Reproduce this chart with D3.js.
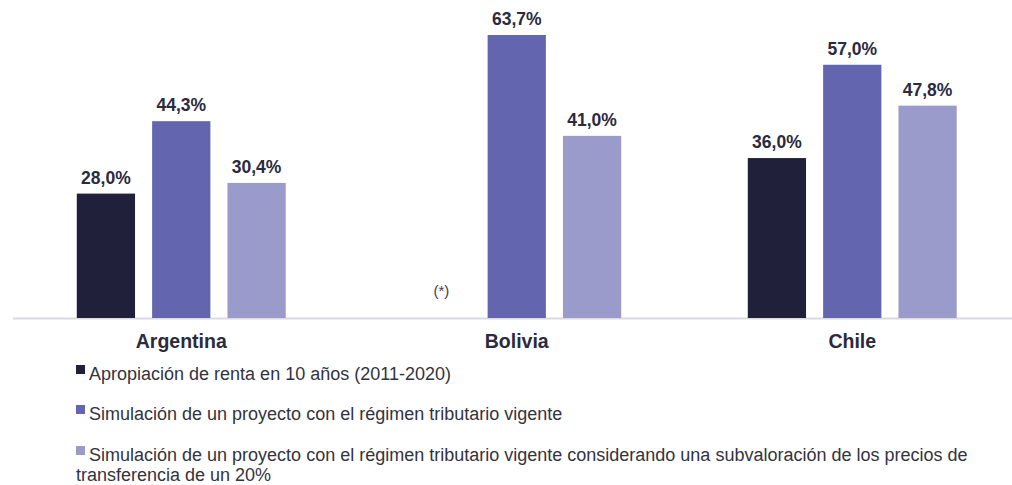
<!DOCTYPE html>
<html>
<head>
<meta charset="utf-8">
<script src="https://cdn.jsdelivr.net/npm/d3@7"></script>
<style>
  html, body { margin: 0; padding: 0; background: #ffffff; }
  svg { display: block; font-family: Arial, "Liberation Sans", sans-serif; }
</style>
</head>
<body>
<svg id="chart" width="1012" height="485"></svg>
<script>
// Countries on the x axis
const categories = ["Argentina", "Bolivia", "Chile"];

// Series names (legend)
const seriesNames = [
  "Apropiación de renta en 10 años (2011-2020)",
  "Simulación de un proyecto con el régimen tributario vigente",
  "Simulación de un proyecto con el régimen tributario vigente considerando una subvaloración de los precios de transferencia de un 20%"
];

// Values in percent; null = no data for that country
const rentaHistorica = [28.0, null, 36.0];
const regimenVigente = [44.3, 63.7, 57.0];
const subvaloracion = [30.4, 41.0, 47.8];

const seriesColors = ["#20203a", "#6366ae", "#9a9bcb"];

const svg = d3.select("#chart");
const width = 1012;

const series = [rentaHistorica, regimenVigente, subvaloracion];

const x = d3.scaleBand().domain(categories).range([13.5, 1020]).paddingInner(0).paddingOuter(0);
const x1 = d3.scaleBand().domain(d3.range(series.length)).range([0, x.bandwidth()])
  .paddingInner(17 / 75).paddingOuter(0.84);
const y = d3.scaleLinear().domain([0, 63.7]).range([318, 35]);

// Baseline
svg.append("line")
  .attr("x1", 13).attr("x2", width)
  .attr("y1", y(0) + 0.5).attr("y2", y(0) + 0.5)
  .attr("stroke", "#d9d9e3").attr("stroke-width", 2);

const fmt = v => d3.format(".1f")(v).replace(".", ",") + "%";

series.forEach((vals, si) => {
  const g = svg.append("g");
  categories.forEach((c, ci) => {
    const v = vals[ci];
    const bx = x(c) + x1(si);
    if (v === null) {
      g.append("text")
        .attr("x", bx + x1.bandwidth() / 2)
        .attr("y", 296)
        .attr("text-anchor", "middle")
        .attr("font-size", 15)
        .attr("fill", "#404050")
        .text("(*)");
      return;
    }
    g.append("rect")
      .attr("x", bx).attr("width", x1.bandwidth())
      .attr("y", y(v)).attr("height", y(0) - y(v))
      .attr("fill", seriesColors[si]);
    g.append("text")
      .attr("x", bx + x1.bandwidth() / 2)
      .attr("y", y(v) - 10)
      .attr("text-anchor", "middle")
      .attr("font-size", 17.5)
      .attr("font-weight", "bold")
      .attr("fill", "#2a2a40")
      .text(fmt(v));
  });
});

// Category labels
svg.append("g").selectAll("text").data(categories).join("text")
  .attr("x", d => x(d) + x.bandwidth() / 2)
  .attr("y", 348)
  .attr("text-anchor", "middle")
  .attr("font-size", 19.5)
  .attr("font-weight", "bold")
  .attr("fill", "#2a2a40")
  .text(d => d);

// Legend
const legendRows = [
  { lines: [seriesNames[0]], y: 380 },
  { lines: [seriesNames[1]], y: 420 },
  { lines: ["Simulación de un proyecto con el régimen tributario vigente considerando una subvaloración de los precios de", "transferencia de un 20%"], y: 461 }
];
const legend = svg.append("g");
legendRows.forEach((r, i) => {
  legend.append("rect")
    .attr("x", 76).attr("y", r.y - 15)
    .attr("width", 9).attr("height", 9)
    .attr("fill", seriesColors[i]);
  const t = legend.append("text")
    .attr("x", 89).attr("y", r.y)
    .attr("font-size", 18)
    .attr("fill", "#333340");
  r.lines.forEach((ln, li) => {
    t.append("tspan").attr("x", li === 0 ? 89 : 76).attr("y", r.y + li * 19.5).text(ln);
  });
});
</script>
</body>
</html>
